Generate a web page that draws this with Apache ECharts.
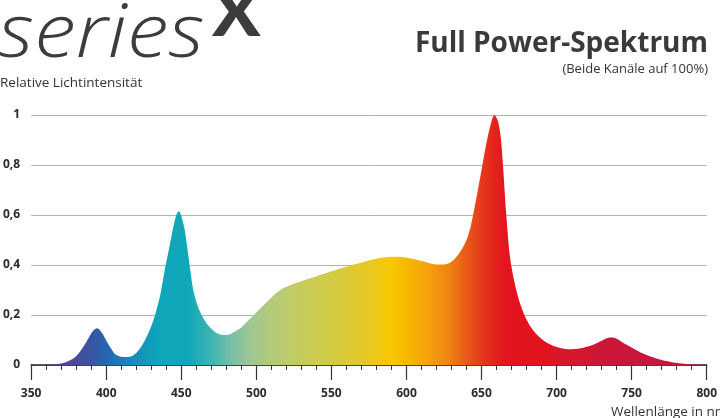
<!DOCTYPE html>
<html>
<head>
<meta charset="utf-8">
<script src="https://cdn.jsdelivr.net/npm/echarts@6/dist/echarts.min.js"></script>
<style>
  html, body { margin: 0; padding: 0; background: #ffffff; }
  #chart { width: 720px; height: 418px; }
</style>
</head>
<body>
<div id="chart"></div>
<script>
// Wavelengths (nm) and relative light intensity
const wavelengths = [350,360,365,370,375,380,385,388,391,394,397,400,403,406,410,415,420,425,430,433,436,439,442,445,447,448.5,450,452,454,456,458,461,464,468,473,478,482,486,490,495,500,505,510,516,522,530,540,550,560,570,580,590,597,604,612,620,626,631,636,640,643,646,650,653,656,658.5,661,663,664.5,666.5,669,672,676,681,686,692,700,708,716,724,730,734,737,740,744,750,756,763,770,778,785,792,800];
const intensity = [0,0,0.002,0.006,0.016,0.035,0.075,0.105,0.135,0.147,0.13,0.098,0.068,0.043,0.033,0.032,0.048,0.09,0.155,0.21,0.28,0.38,0.47,0.56,0.605,0.615,0.595,0.55,0.47,0.38,0.3,0.235,0.195,0.158,0.13,0.12,0.122,0.135,0.15,0.18,0.21,0.24,0.27,0.3,0.318,0.335,0.355,0.375,0.393,0.41,0.425,0.433,0.432,0.425,0.413,0.402,0.403,0.418,0.455,0.5,0.56,0.65,0.78,0.88,0.96,1.0,0.975,0.9,0.78,0.6,0.43,0.33,0.24,0.17,0.127,0.095,0.072,0.063,0.067,0.08,0.097,0.108,0.11,0.105,0.09,0.07,0.05,0.033,0.02,0.01,0.005,0.002,0];
const xTickValues = [350,400,450,500,550,600,650,700,750,800];
const yTickValues = [0,0.2,0.4,0.6,0.8,1];
// Spectrum colour stops: wavelength -> colour
const colorWavelengths = [350,380,390,400,415,435,455,470,483,495,510,530,555,575,590,602,615,628,640,652,665,690,715,740,800];
const colorValues = ['#4a4699','#4a4a9c','#3a55a5','#2566b0','#1a86bf','#0ea6ba','#10a8b8','#3db4b4','#76bea8','#9dc695','#b3ca7b','#c6cc5b','#d6ca3e','#e8c822','#f8c800','#f6b500','#f4a20c','#ef8410','#e85a18','#e5351b','#e3151f','#e0141f','#d3182f','#c9163a','#c9163a'];

const chart = echarts.init(document.getElementById('chart'), null, { renderer: 'canvas' });
const xMin = 350, xMax = 800;
const stops = colorWavelengths.map((w, i) => ({ offset: (w - xMin) / (xMax - xMin), color: colorValues[i] }));
const txt = '#333333';

const option = {
  animation: false,
  backgroundColor: '#ffffff',
  grid: { left: 28, right: 9, top: 115, bottom: 53, containLabel: false },
  xAxis: {
    type: 'value', min: xMin, max: xMax, interval: 50,
    axisLine: { show: true, onZero: false, lineStyle: { color: '#222', width: 1.5 } },
    axisTick: { show: true, length: 15, lineStyle: { color: '#333', width: 1.2 } },
    minorTick: { show: true, splitNumber: 5, length: 5, lineStyle: { color: '#333', width: 1 } },
    splitLine: { show: false },
    axisLabel: { margin: 23, color: '#2a2a2a', fontFamily: 'Open Sans', fontWeight: 700, fontSize: 12,
      formatter: v => xTickValues.includes(v) ? String(v) : '' }
  },
  yAxis: {
    type: 'value', min: 0, max: 1, interval: 0.2,
    axisLine: { show: false }, axisTick: { show: false },
    splitLine: { show: true, lineStyle: { color: '#b3b3b3', width: 1 } },
    axisLabel: { margin: 11, color: '#2a2a2a', fontFamily: 'Open Sans', fontWeight: 700, fontSize: 12,
      formatter: v => { const r = Math.round(v * 10) / 10; return yTickValues.includes(r) ? String(r).replace('.', ',') : ''; } }
  },
  series: [{
    type: 'line',
    data: wavelengths.map((w, i) => [w, intensity[i]]),
    smooth: 0.3,
    showSymbol: false,
    lineStyle: { width: 0, opacity: 0 },
    areaStyle: { opacity: 1, color: new echarts.graphic.LinearGradient(0, 0, 1, 0, stops) },
    z: 1
  }],
  graphic: [
    { type: 'text', left: -2, top: -1, scaleX: 1.14, style: { text: 'series', fill: '#3c3c3c', font: 'italic 300 74px "Open Sans"' } },
    { type: 'text', left: 212, top: -17, scaleX: 1.12, style: { text: 'X', fill: '#3c3c3c', font: '900 64px Lato' } },
    { type: 'text', left: 0, top: 76, style: { text: 'Relative Lichtintensität', fill: txt, font: '500 13.5px "Open Sans"' } },
    { type: 'text', right: 12, top: 30, style: { text: 'Full Power-Spektrum', fill: '#3a3a3a', font: 'bold 28px "Open Sans"', textAlign: 'right' } },
    { type: 'text', right: 12, top: 63, style: { text: '(Beide Kanäle auf 100%)', fill: txt, font: '500 13px "Open Sans"', textAlign: 'right' } },
    { type: 'text', left: 611, top: 405, style: { text: 'Wellenlänge in nm', fill: txt, font: '500 13.5px "Open Sans"' } }
  ]
};
chart.setOption(option);
</script>
</body>
</html>
